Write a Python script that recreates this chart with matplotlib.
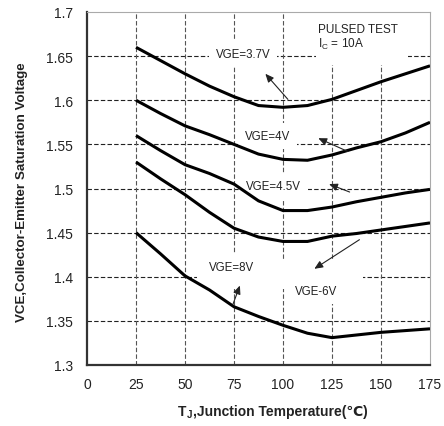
import matplotlib
matplotlib.use("Agg")
import matplotlib.pyplot as plt
from matplotlib.patches import Rectangle

plt.rcParams['font.family'] = ['Liberation Sans', 'DejaVu Sans']
plt.rcParams['mathtext.fontset'] = 'custom'
plt.rcParams['mathtext.rm'] = 'Liberation Sans'
plt.rcParams['mathtext.bf'] = 'Liberation Sans:bold'

# Data
temps = [25, 37.5, 50, 62.5, 75, 87.5, 100, 112.5, 125, 137.5, 150, 162.5, 175]
vge_3_7 = [1.660, 1.645, 1.630, 1.616, 1.604, 1.594, 1.592, 1.594, 1.601, 1.611, 1.621, 1.630, 1.639]
vge_4 = [1.600, 1.585, 1.571, 1.561, 1.550, 1.539, 1.533, 1.532, 1.538, 1.546, 1.553, 1.563, 1.575]
vge_4_5 = [1.560, 1.543, 1.527, 1.517, 1.505, 1.486, 1.475, 1.475, 1.479, 1.485, 1.490, 1.495, 1.499]
vge_6 = [1.530, 1.511, 1.493, 1.473, 1.455, 1.445, 1.440, 1.440, 1.446, 1.449, 1.453, 1.457, 1.461]
vge_8 = [1.450, 1.426, 1.401, 1.385, 1.366, 1.355, 1.345, 1.336, 1.331, 1.334, 1.337, 1.339, 1.341]

series = [vge_3_7, vge_4, vge_4_5, vge_6, vge_8]

x_ticks = [0, 25, 50, 75, 100, 125, 150, 175]
y_ticks = [1.3, 1.35, 1.4, 1.45, 1.5, 1.55, 1.6, 1.65, 1.7]
y_tick_labels = ["1.3", "1.35", "1.4", "1.45", "1.5", "1.55", "1.6", "1.65", "1.7"]

labels = ["VGE=3.7V", "VGE=4V", "VGE=4.5V", "VGE=8V", "VGE-6V"]
label_pos = [(79.6, 1.652), (92.3, 1.5595), (95, 1.503), (73.5, 1.411), (117, 1.384)]
arrows = [((91, 1.630), (102.5, 1.601)),
          ((118, 1.557), (133, 1.542)),
          ((123.5, 1.505), (134, 1.496)),
          ((78, 1.390), (74.5, 1.369)),
          ((116, 1.409), (139, 1.442))]

W, H = 444, 427
fig = plt.figure(figsize=(W / 100, H / 100), dpi=100)
ax = fig.add_axes([87 / W, 1 - 366 / H, (430 - 87) / W, (366 - 13) / H])

ax.set_xlim(0, 175)
ax.set_ylim(1.3, 1.7)

for yv in y_ticks[1:-1]:
    ax.axhline(yv, color='#222222', lw=0.8, ls=(0, (4, 2)), zorder=0.5)
for xv in x_ticks[1:-1]:
    ax.axvline(xv, color='#555555', lw=0.8, ls=(0, (4, 2)), zorder=0.5)

# white areas behind the lower labels and the test note
ax.add_patch(Rectangle((56, 1.386), 85, 0.034, facecolor='white', edgecolor='none', zorder=1))
ax.add_patch(Rectangle((117, 1.64), 47, 0.058, facecolor='white', edgecolor='none', zorder=1))

for s in series:
    ax.plot(temps, s, color='black', lw=2.2, zorder=3, solid_capstyle='butt')

for lab, (tx, ty) in zip(labels, label_pos):
    ax.text(tx, ty, lab, ha='center', va='center', fontsize=8.3, color='#222222',
            zorder=2, bbox=dict(facecolor='white', edgecolor='none', pad=5))

for head, tail in arrows:
    ax.annotate('', xy=head, xytext=tail,
                arrowprops=dict(arrowstyle='-|>,head_length=0.5,head_width=0.22',
                                color='#222222', lw=0.8, shrinkA=0, shrinkB=0),
                zorder=4)

ax.text(118, 1.681, "PULSED TEST", ha='left', va='center', fontsize=8.5, color='#222222', zorder=2)
ax.text(118, 1.664, r"I$_\mathrm{C}$ = 10A", ha='left', va='center', fontsize=8.5,
        color='#222222', zorder=2)

ax.set_xticks(x_ticks)
ax.set_yticks(y_ticks)
ax.set_yticklabels(y_tick_labels)
ax.tick_params(length=0, labelsize=10, colors='#222222', pad=9)
ax.tick_params(axis='y', pad=10)

for side in ['left', 'bottom']:
    ax.spines[side].set_color('#333333')
    ax.spines[side].set_linewidth(1.6)
for side in ['top', 'right']:
    ax.spines[side].set_color('#aaaaaa')
    ax.spines[side].set_linewidth(0.8)

# y label
fig.text(22 / W, 1 - 192.5 / H, "VCE,Collector-Emitter Saturation Voltage", rotation=90,
         ha='center', va='center', fontsize=9.6, fontweight='bold', color='#222222')

# x label: T with subscript J, then the rest (plain text so ℃ can fall back to DejaVu)
t1 = fig.text(178 / W, 1 - 416 / H, "T", ha='left', va='baseline', fontsize=10,
              fontweight='bold', color='#222222')
t2 = fig.text(0, 0, "J", fontsize=7, fontweight='bold', color='#222222')
t2.set_transform(matplotlib.transforms.offset_copy(fig.transFigure, fig=fig, x=0, y=0))
fig.canvas.draw()
r = fig.canvas.get_renderer()
b1 = t1.get_window_extent(r)
t2.set_position(((b1.x1 + 0.5) / W, (H - 418.5) / H))
t2.set_transform(fig.transFigure)
t2.set_va('baseline')
fig.canvas.draw()
b2 = t2.get_window_extent(r)
fig.text((b2.x1 + 0.5) / W, 1 - 416 / H, ",Junction Temperature(℃)", ha='left', va='baseline',
         fontsize=10, fontweight='bold', color='#222222')

fig.savefig("out.png", dpi=100)
